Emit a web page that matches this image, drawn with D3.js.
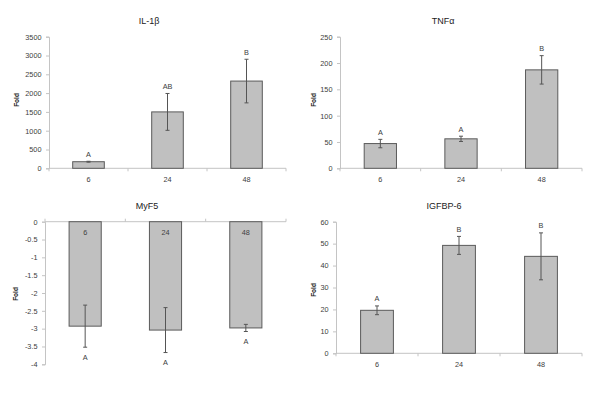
<!DOCTYPE html>
<html>
<head>
<meta charset="utf-8">
<script src="https://cdn.jsdelivr.net/npm/d3@7"></script>
<style>
html,body{margin:0;padding:0;background:#fff;}
svg{display:block;font-family:"Liberation Sans","DejaVu Sans",sans-serif;}
</style>
</head>
<body>
<svg id="chart" width="600" height="401"></svg>
<script>
const categories = ["6", "24", "48"];

const il1bMean = [175, 1500, 2320];
const il1bErr = [12, 490, 580];
const il1bLetters = ["A", "AB", "B"];
const il1bTicks = [0, 500, 1000, 1500, 2000, 2500, 3000, 3500];

const tnfMean = [47, 56, 187];
const tnfErr = [8, 5, 27];
const tnfLetters = ["A", "A", "B"];
const tnfTicks = [0, 50, 100, 150, 200, 250];

const myf5Mean = [-2.93, -3.04, -2.98];
const myf5Err = [0.59, 0.63, 0.1];
const myf5Letters = ["A", "A", "A"];
const myf5Ticks = [0, -0.5, -1, -1.5, -2, -2.5, -3, -3.5, -4];

const igfMean = [19.6, 49.2, 44.2];
const igfErr = [2, 4.1, 10.7];
const igfLetters = ["A", "B", "B"];
const igfTicks = [0, 10, 20, 30, 40, 50, 60];

const panels = [
  {title: "IL-1\u03b2", mean: il1bMean, err: il1bErr, letters: il1bLetters, ticks: il1bTicks,
   domain: [0, 3500], x0: 49, x1: 286, yZero: 168.3, yEnd: 36.7, titleX: 149, titleY: 21, foldX: 17, foldY: 100},
  {title: "TNF\u03b1", mean: tnfMean, err: tnfErr, letters: tnfLetters, ticks: tnfTicks,
   domain: [0, 250], x0: 340, x1: 582, yZero: 168.3, yEnd: 36.7, titleX: 443, titleY: 21, foldX: 314, foldY: 100},
  {title: "MyF5", mean: myf5Mean, err: myf5Err, letters: myf5Letters, ticks: myf5Ticks,
   domain: [0, -4], x0: 45, x1: 286, yZero: 221.7, yEnd: 364.3, titleX: 147, titleY: 206, foldX: 16, foldY: 294, negative: true},
  {title: "IGFBP-6", mean: igfMean, err: igfErr, letters: igfLetters, ticks: igfTicks,
   domain: [0, 60], x0: 336, x1: 582, yZero: 353.3, yEnd: 221.7, titleX: 444, titleY: 206, foldX: 314, foldY: 290}
];

const svg = d3.select("#chart");
const textColor = "#404040";
const axisColor = "#c4c4c4";
const fontFam = "Liberation Sans, DejaVu Sans, sans-serif";

panels.forEach(p => {
  const g = svg.append("g");
  const x = d3.scaleBand().domain(categories).range([p.x0, p.x1]).paddingInner(0.6).paddingOuter(0.3);
  const xb = d3.scaleBand().domain(categories).range([p.x0, p.x1]);
  const y = d3.scaleLinear().domain(p.domain).range([p.yZero, p.yEnd]);

  // y axis
  const yAxis = d3.axisLeft(y).tickValues(p.ticks).tickSize(3).tickPadding(4.5)
    .tickFormat(d => String(d));
  const ya = g.append("g").attr("transform", `translate(${p.x0},0)`).call(yAxis)
    .attr("font-family", fontFam);
  ya.select(".domain").attr("stroke", axisColor);
  ya.selectAll(".tick line").attr("stroke", axisColor);
  ya.selectAll(".tick text").attr("fill", textColor).attr("font-size", 7.3);

  // x axis line
  g.append("line").attr("x1", p.x0).attr("x2", p.x1)
    .attr("y1", y(0)).attr("y2", y(0)).attr("stroke", axisColor);
  // category boundary ticks
  const bounds = categories.map(c => xb(c)).concat([p.x1]);
  g.selectAll(".bt").data(bounds).enter().append("line")
    .attr("x1", d => d).attr("x2", d => d)
    .attr("y1", y(0)).attr("y2", y(0) + (p.negative ? -3 : 3))
    .attr("stroke", axisColor);

  // bars
  g.selectAll(".bar").data(p.mean).enter().append("rect")
    .attr("x", (d, i) => x(categories[i]))
    .attr("width", x.bandwidth())
    .attr("y", d => Math.min(y(d), y(0)))
    .attr("height", d => Math.abs(y(d) - y(0)))
    .attr("fill", "#c0c0c0").attr("stroke", "#5a5a5a").attr("stroke-width", 1);

  // error bars
  const cx = i => x(categories[i]) + x.bandwidth() / 2;
  p.mean.forEach((m, i) => {
    const hi = y(m + p.err[i]), lo = y(m - p.err[i]);
    g.append("line").attr("x1", cx(i)).attr("x2", cx(i)).attr("y1", hi).attr("y2", lo)
      .attr("stroke", "#555").attr("stroke-width", 1);
    [hi, lo].forEach(v => g.append("line").attr("x1", cx(i) - 2).attr("x2", cx(i) + 2)
      .attr("y1", v).attr("y2", v).attr("stroke", "#555").attr("stroke-width", 1));
    // letters
    const ly = p.negative ? lo + 10 : hi - 7;
    g.append("text").attr("x", cx(i)).attr("y", ly).attr("dy", "0.35em")
      .attr("text-anchor", "middle").attr("font-size", 7.3).attr("fill", textColor)
      .text(p.letters[i]);
    // category labels
    const cy = p.negative ? y(0) + 10.6 : y(0) + 11.5;
    g.append("text").attr("x", xb(categories[i]) + xb.bandwidth() / 2).attr("y", cy).attr("dy", "0.35em")
      .attr("text-anchor", "middle").attr("font-size", 7.3).attr("fill", textColor)
      .text(categories[i]);
  });

  // title
  g.append("text").attr("x", p.titleX).attr("y", p.titleY).attr("dy", "0.35em")
    .attr("text-anchor", "middle").attr("font-size", 9).attr("fill", "#222")
    .text(p.title);
  // Fold label
  g.append("text").attr("transform", `translate(${p.foldX},${p.foldY}) rotate(-90)`)
    .attr("dy", "0.35em").attr("text-anchor", "middle")
    .attr("font-size", 6.5).attr("font-weight", "bold").attr("fill", "#222")
    .text("Fold");
});
</script>
</body>
</html>
